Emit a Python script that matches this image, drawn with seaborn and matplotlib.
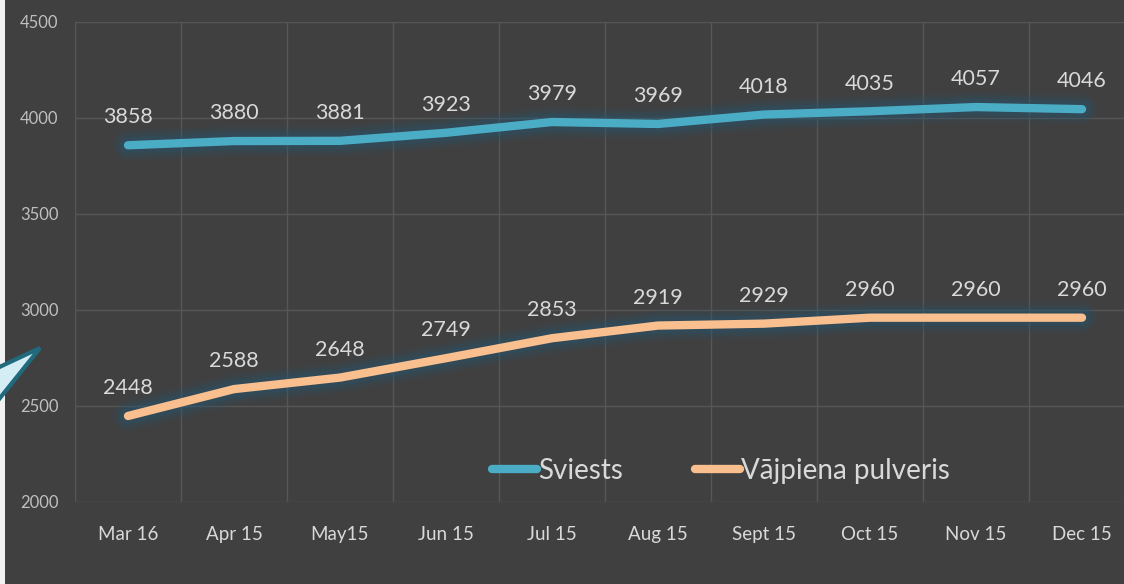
import matplotlib
matplotlib.use("Agg")
import matplotlib.pyplot as plt
import matplotlib.patheffects as pe
from matplotlib.patches import Polygon, Rectangle
import seaborn as sns
import pandas as pd

months = ["Mar 16", "Apr 15", "May15", "Jun 15", "Jul 15",
          "Aug 15", "Sept 15", "Oct 15", "Nov 15", "Dec 15"]
sviests = [3858, 3880, 3881, 3923, 3979, 3969, 4018, 4035, 4057, 4046]
pulveris = [2448, 2588, 2648, 2749, 2853, 2919, 2929, 2960, 2960, 2960]
series_names = ["Sviests", "Vājpiena pulveris"]
colors = ["#4bacc6", "#f9bf8f"]
y_ticks = [2000, 2500, 3000, 3500, 4000, 4500]

df = pd.DataFrame({
    "month": months * 2,
    "pos": list(range(len(months))) * 2,
    "value": sviests + pulveris,
    "series": [series_names[0]] * len(months) + [series_names[1]] * len(months),
})

bg = "#404040"
sns.set_theme(style="dark")
plt.rcParams["font.family"] = ["Lato", "DejaVu Sans"]

fig = plt.figure(figsize=(11.24, 5.84), dpi=100, facecolor=bg)
ax = fig.add_axes([75 / 1124, 1 - 502 / 584, 1060 / 1124, 480 / 584])
ax.set_facecolor(bg)

sns.lineplot(data=df, x="pos", y="value", hue="series", palette=colors,
             linewidth=6, ax=ax, legend=False, sort=False)

# soft blue glow around the lines
glow = [pe.Stroke(linewidth=22, foreground="#215570", alpha=0.12),
        pe.Stroke(linewidth=17, foreground="#215570", alpha=0.18),
        pe.Stroke(linewidth=12, foreground="#245c7a", alpha=0.25),
        pe.Normal()]
for line in ax.get_lines():
    line.set_path_effects(glow)
    line.set_solid_capstyle("round")
    line.set_solid_joinstyle("round")

for vals in (sviests, pulveris):
    for i, v in enumerate(vals):
        ax.annotate(str(v), (i, v), xytext=(0, 20), textcoords="offset points",
                    ha="center", va="center", fontsize=15.5, color="#d9d9d9")

ax.set_xlim(-0.5, 9.5)
ax.set_ylim(2000, 4500)
ax.set_yticks(y_ticks)
ax.set_yticklabels([str(t) for t in y_ticks], fontsize=12, color="#bfbfbf")
ax.set_xticks([i - 0.5 for i in range(11)], minor=False)
ax.set_xticklabels([])
ax.set_xticks(range(len(months)), minor=True)
ax.set_xticklabels(months, minor=True, fontsize=13.5, color="#d9d9d9")
ax.tick_params(axis="x", which="both", length=0, pad=17)
ax.tick_params(axis="y", length=0, pad=12)
ax.grid(True, which="major", color="#565656", linewidth=1)
ax.set_xlabel("")
ax.set_ylabel("")
for s in ax.spines.values():
    s.set_visible(False)

handles = [plt.Line2D([0], [0], color=c, lw=6, solid_capstyle="round") for c in colors]
fig.legend(handles, series_names, loc="center", bbox_to_anchor=(721 / 1124, 1 - 471 / 584),
           ncol=2, frameon=False, fontsize=20, labelcolor="#d9d9d9",
           handlelength=1.6, handletextpad=0.05, columnspacing=2.6)

# left border strip and callout pointer
fig.add_artist(Rectangle((0, 0), 5 / 1124, 1, transform=fig.transFigure,
                         facecolor="#f2f2f2", edgecolor="none"))
fig.add_artist(Polygon([(40 / 1124, 1 - 348 / 584), (-0.01, 1 - 372 / 584),
                        (-0.01, 1 - 412 / 584)], closed=True, transform=fig.transFigure,
                       facecolor="#d4edf4", edgecolor="#21697c", linewidth=3))

fig.savefig("out.png", dpi=100, facecolor=bg)
